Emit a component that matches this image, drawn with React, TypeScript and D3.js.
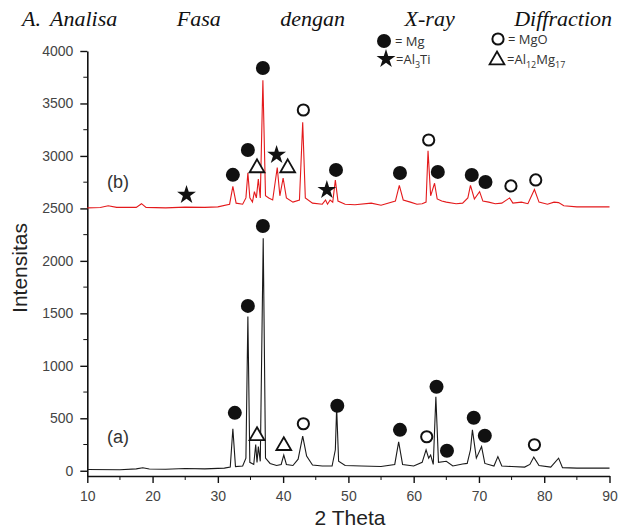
import React, { useEffect, useRef } from 'react';
import * as d3 from 'd3';

// pattern (a): 2 Theta vs intensity, black trace
const thetaA = [10, 15, 17.5, 18.5, 19.5, 22, 25, 28, 31, 31.9, 32.3, 32.7, 33.8, 34.3, 34.6, 34.9, 35.5, 35.8, 36.0, 36.2, 36.5, 36.95, 37.3, 38, 39, 39.7, 40.1, 40.5, 41.5, 42.3, 43.0, 43.6, 44.5, 46, 47.5, 48.0, 48.2, 48.5, 49.5, 52, 55, 57.1, 57.7, 58.3, 60, 61.3, 61.9, 62.3, 62.6, 63.0, 63.4, 63.8, 65.0, 66, 67.5, 68.2, 68.7, 69.0, 69.6, 70.4, 70.9, 72.3, 72.9, 73.5, 75, 77, 77.8, 78.4, 79.2, 81, 82.2, 82.8, 85, 88, 90];
const intensityA = [12, 10, 18, 28, 16, 14, 22, 18, 25, 35, 400, 40, 45, 120, 1470, 80, 60, 250, 80, 230, 90, 2215, 120, 70, 50, 60, 150, 60, 50, 110, 330, 140, 55, 45, 45, 200, 600, 90, 50, 45, 40, 60, 275, 60, 45, 80, 200, 120, 150, 60, 705, 80, 90, 45, 65, 70, 200, 390, 120, 230, 70, 45, 135, 45, 40, 35, 60, 130, 50, 35, 120, 30, 25, 25, 25];

// pattern (b): red trace, offset near 2500
const thetaB = [10, 12, 13.2, 14.5, 17.5, 18.3, 19, 22, 25, 28, 30, 31.8, 32.3, 32.8, 33.8, 34.3, 34.6, 34.9, 35.3, 35.6, 35.9, 36.2, 36.5, 36.9, 37.3, 37.8, 38.4, 39.1, 39.5, 40.0, 40.5, 41.5, 42.5, 43.0, 43.4, 44.5, 46, 46.5, 46.8, 47.2, 47.6, 48.0, 48.4, 49.5, 51, 53.5, 55, 57.2, 57.8, 58.4, 59.5, 60.5, 61.3, 61.9, 62.2, 62.6, 63.2, 63.6, 64.3, 65, 66.5, 67.5, 68.3, 68.7, 69.3, 70.1, 70.6, 71.5, 72.5, 73.5, 74.7, 75.2, 76.5, 77.5, 78.5, 79.2, 80.5, 81.5, 82.2, 83, 85, 90];
const intensityB = [2505, 2508, 2525, 2510, 2510, 2545, 2510, 2505, 2512, 2510, 2515, 2540, 2710, 2550, 2540, 2600, 2840, 2600, 2560, 2660, 2600, 2780, 2600, 3720, 2620, 2600, 2580, 2890, 2620, 2790, 2600, 2560, 2580, 3320, 2600, 2550, 2540, 2580, 2540, 2580, 2560, 2770, 2570, 2540, 2535, 2550, 2530, 2570, 2720, 2580, 2560, 2540, 2545, 2560, 3050, 2620, 2740, 2590, 2570, 2560, 2545, 2550, 2600, 2720, 2590, 2660, 2570, 2560, 2545, 2550, 2600, 2550, 2560, 2545, 2680, 2560, 2540, 2560, 2555, 2525, 2515, 2515];

// phase markers: position (2 Theta, intensity) and phase
const markerTheta = [32.3, 34.6, 36.0, 36.9, 39.0, 40.7, 43.1, 46.7, 48.1, 25.2, 57.9, 62.3, 63.7, 68.9, 71.0, 74.9, 78.7,
  32.6, 34.6, 36.0, 36.9, 40.1, 43.1, 48.3, 57.9, 62.0, 63.5, 65.1, 69.2, 70.9, 78.5];
const markerValue = [2820, 3057, 2895, 3838, 3010, 2895, 3438, 2676, 2867, 2629, 2838, 3152, 2848, 2819, 2752, 2714, 2771,
  552, 1571, 343, 2333, 248, 448, 619, 390, 324, 800, 190, 505, 333, 248];
const markerPhase = ['Mg', 'Mg', 'Al12Mg17', 'Mg', 'Al3Ti', 'Al12Mg17', 'MgO', 'Al3Ti', 'Mg', 'Al3Ti', 'Mg', 'MgO', 'Mg', 'Mg', 'Mg', 'MgO', 'MgO',
  'Mg', 'Mg', 'Al12Mg17', 'Mg', 'Al12Mg17', 'MgO', 'Mg', 'Mg', 'MgO', 'Mg', 'Mg', 'Mg', 'Mg', 'MgO'];

const yTicks = [0, 500, 1000, 1500, 2000, 2500, 3000, 3500, 4000];
const xTicks = [10, 20, 30, 40, 50, 60, 70, 80, 90];
const titleWords = ['Analisa', 'Fasa', 'dengan', 'X-ray', 'Diffraction'];

const W = 629;
const H = 529;

function drawMarker(g: any, phase: string, cx: number, cy: number) {
  if (phase === 'Mg') {
    g.append('circle').attr('cx', cx).attr('cy', cy).attr('r', 7).attr('fill', '#111');
  } else if (phase === 'MgO') {
    g.append('circle').attr('cx', cx).attr('cy', cy).attr('r', 5.6)
      .attr('fill', '#fff').attr('stroke', '#111').attr('stroke-width', 2);
  } else if (phase === 'Al3Ti') {
    g.append('path').attr('d', d3.symbol().type(d3.symbolStar).size(110)())
      .attr('transform', `translate(${cx},${cy})`).attr('fill', '#111');
  } else {
    g.append('path').attr('d', d3.symbol().type(d3.symbolTriangle).size(95)())
      .attr('transform', `translate(${cx},${cy + 1})`)
      .attr('fill', '#fff').attr('stroke', '#111').attr('stroke-width', 1.8);
  }
}

const App = () => {
  const svgRef = useRef<SVGSVGElement>(null);

  useEffect(() => {
    const svg = d3.select(svgRef.current);
    svg.selectAll('*').remove();

    const x = d3.scaleLinear().domain([10, 90]).range([87.3, 609.5]);
    const y = d3.scaleLinear().domain([-50, 4000]).range([476, 51]);

    // title, justified like the paper text
    const title = svg.append('g')
      .style('font-family', '"Liberation Serif", serif')
      .style('font-style', 'italic')
      .style('font-size', '22px')
      .attr('fill', '#111');
    title.append('text').attr('x', 22).attr('y', 26).text('A.');
    const words = titleWords.map(w => title.append('text').attr('y', 26).text(w));
    const widths = words.map(t => (t.node() as SVGTextElement).getComputedTextLength());
    const left = 50, right = 612;
    const gap = (right - left - d3.sum(widths)) / (titleWords.length - 1);
    let cursor = left;
    words.forEach((t, i) => {
      t.attr('x', cursor);
      cursor += widths[i] + gap;
    });

    // axes
    const yAxis = svg.append('g')
      .attr('transform', `translate(${x(10)},0)`)
      .call(d3.axisLeft(y).tickValues(yTicks).tickFormat(d3.format('d')).tickSize(7).tickSizeOuter(0).tickPadding(7));
    yAxis.selectAll('text')
      .style('font-family', '"Liberation Sans", Arial, sans-serif')
      .style('font-size', '14px')
      .attr('fill', '#444');
    yAxis.append('g').selectAll('line')
      .data(d3.range(250, 4000, 500))
      .enter().append('line')
      .attr('x2', -4)
      .attr('y1', d => y(d)).attr('y2', d => y(d))
      .attr('stroke', '#111');

    const xAxis = svg.append('g')
      .attr('transform', `translate(0,${y(-50)})`)
      .call(d3.axisBottom(x).tickValues(xTicks).tickFormat(d3.format('d')).tickSize(7).tickSizeOuter(0).tickPadding(8));
    xAxis.selectAll('text')
      .style('font-family', '"Liberation Sans", Arial, sans-serif')
      .style('font-size', '14px')
      .attr('fill', '#444');
    xAxis.append('g').selectAll('line')
      .data(d3.range(15, 90, 10))
      .enter().append('line')
      .attr('x1', d => x(d)).attr('x2', d => x(d))
      .attr('y2', 4)
      .attr('stroke', '#111');

    [yAxis, xAxis].forEach(a => {
      a.select('.domain').attr('stroke', '#111').attr('stroke-width', 1.6);
      a.selectAll('.tick line').attr('stroke', '#111').attr('stroke-width', 1.4);
    });

    // axis titles
    svg.append('text')
      .attr('transform', `translate(27,268) rotate(-90)`)
      .attr('text-anchor', 'middle')
      .style('font-family', '"Liberation Sans", Arial, sans-serif')
      .style('font-size', '21px')
      .attr('fill', '#222')
      .text('Intensitas');
    svg.append('text')
      .attr('x', 350).attr('y', 525)
      .attr('text-anchor', 'middle')
      .style('font-family', '"Liberation Sans", Arial, sans-serif')
      .style('font-size', '21px')
      .attr('fill', '#222')
      .text('2 Theta');

    // traces
    const line = d3.line<[number, number]>()
      .x(d => x(d[0]))
      .y(d => y(d[1]));

    svg.append('path')
      .datum(thetaB.map((t, i) => [t, intensityB[i]] as [number, number]))
      .attr('fill', 'none')
      .attr('stroke', '#e41a1c')
      .attr('stroke-width', 1.1)
      .attr('d', line);

    svg.append('path')
      .datum(thetaA.map((t, i) => [t, intensityA[i]] as [number, number]))
      .attr('fill', 'none')
      .attr('stroke', '#1a1a1a')
      .attr('stroke-width', 1.1)
      .attr('d', line);

    // series labels
    const lab = svg.append('g')
      .style('font-family', '"Liberation Sans", Arial, sans-serif')
      .style('font-size', '18px')
      .attr('fill', '#333');
    lab.append('text').attr('x', 107).attr('y', 188).text('(b)');
    lab.append('text').attr('x', 107).attr('y', 443).text('(a)');

    // phase markers
    const marks = svg.append('g');
    markerTheta.forEach((t, i) => drawMarker(marks, markerPhase[i], x(t), y(markerValue[i])));

    // legend
    const leg = svg.append('g')
      .style('font-family', '"Open Sans", sans-serif')
      .style('font-size', '13px')
      .attr('fill', '#333');
    drawMarker(leg, 'Mg', 384, 41);
    leg.append('text').attr('x', 395).attr('y', 46).text('= Mg');
    drawMarker(leg, 'Al3Ti', 386, 59);
    const t1 = leg.append('text').attr('x', 396).attr('y', 64).text('=Al');
    t1.append('tspan').attr('dy', 4).style('font-size', '9px').text('3');
    t1.append('tspan').attr('dy', -4).text('Ti');
    drawMarker(leg, 'MgO', 498, 39);
    leg.append('text').attr('x', 508).attr('y', 44).text('= MgO');
    drawMarker(leg, 'Al12Mg17', 497, 59);
    const t2 = leg.append('text').attr('x', 507).attr('y', 64).text('=Al');
    t2.append('tspan').attr('dy', 4).style('font-size', '9px').text('12');
    t2.append('tspan').attr('dy', -4).text('Mg');
    t2.append('tspan').attr('dy', 4).style('font-size', '9px').text('17');
  }, []);

  return (
    <svg
      ref={svgRef}
      width={W}
      height={H}
      style={{ position: 'absolute', left: 0, top: 0, background: '#fff' }}
    />
  );
};

export default App;
